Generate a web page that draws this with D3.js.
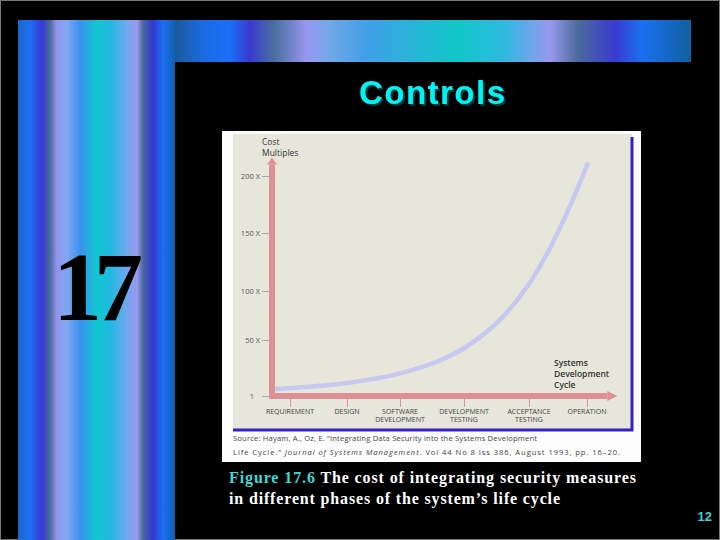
<!DOCTYPE html>
<html>
<head>
<meta charset="utf-8">
<script src="https://cdn.jsdelivr.net/npm/d3@7"></script>
<style>
  body { margin: 0; background: #000; }
  svg { display: block; }
</style>
</head>
<body>
<svg id="slide" width="720" height="540"></svg>
<script>
// ---- data ----
const phases = ["REQUIREMENT", "DESIGN", "SOFTWARE|DEVELOPMENT", "DEVELOPMENT|TESTING", "ACCEPTANCE|TESTING", "OPERATION"];
const costTicks = [1, 50, 100, 150, 200];
// curve: position along the life cycle (phase index) and cost multiple
const curvePhase = [-0.26, 0, 1, 2, 2.63, 3, 3.25, 3.66, 4, 4.31, 4.71, 5.02];
const curveCost = [7, 8, 12.4, 20.8, 32.3, 42.8, 53, 78, 106, 132, 174, 212];

const svg = d3.select('#slide');
const defs = svg.append('defs');

// slide decoration: gradient bars
const sideStops = [
    [0, '#1a66c8'], [0.076, '#1a70f0'], [0.153, '#3838d8'], [0.204, '#4a6a9a'],
    [0.248, '#9494f0'], [0.312, '#80a8f0'], [0.395, '#3c90f0'], [0.503, '#10c8d0'],
    [0.586, '#20b8e0'], [0.694, '#70a8f0'], [0.758, '#9a98f0'], [0.796, '#4a6a9a'],
    [0.86, '#3434d0'], [0.924, '#1a70f0'], [1, '#1060b0']
];
const topStops = [
    [0, '#1a5a98'], [0.053, '#1a6ae0'], [0.105, '#1a70f8'], [0.145, '#3a3ad0'],
    [0.194, '#4a70a0'], [0.256, '#9898f0'], [0.3, '#70a8e8'], [0.372, '#40a0e8'],
    [0.55, '#10c8c8'], [0.64, '#30b8e0'], [0.727, '#9898f0'], [0.781, '#4a6a9a'],
    [0.853, '#3a3ad0'], [0.905, '#1a70f0'], [1, '#1060a0']
];
function addGradient(id, stops) {
    defs.append('linearGradient')
        .attr('id', id)
        .attr('x1', 0).attr('x2', 1).attr('y1', 0).attr('y2', 0)
        .selectAll('stop')
        .data(stops)
        .enter().append('stop')
        .attr('offset', d => d[0])
        .attr('stop-color', d => d[1]);
}
addGradient('side-grad', sideStops);
addGradient('top-grad', topStops);

defs.append('filter').attr('id', 'shadow')
    .append('feDropShadow')
    .attr('dx', 2).attr('dy', 2).attr('stdDeviation', 0.4)
    .attr('flood-color', '#0a3a3a').attr('flood-opacity', 1);

svg.append('rect').attr('x', 0.5).attr('y', 0.5).attr('width', 719).attr('height', 539)
    .attr('fill', '#000').attr('stroke', '#777');
svg.append('rect').attr('x', 18).attr('y', 20).attr('width', 157).attr('height', 520)
    .attr('fill', 'url(#side-grad)');
svg.append('rect').attr('x', 175).attr('y', 20).attr('width', 516).attr('height', 42)
    .attr('fill', 'url(#top-grad)');

svg.append('text')
    .attr('x', 98).attr('y', 320)
    .attr('text-anchor', 'middle')
    .attr('font-family', 'Liberation Serif, serif')
    .attr('font-weight', 'bold')
    .attr('font-size', 98)
    .attr('textLength', 90)
    .attr('fill', '#000')
    .text('17');

// title with shadow
svg.append('text')
    .attr('x', 432).attr('y', 104)
    .attr('text-anchor', 'middle')
    .attr('font-family', 'Liberation Sans, Arial, sans-serif')
    .attr('font-weight', 'bold')
    .attr('font-size', 33)
    .attr('textLength', 146)
    .attr('fill', '#00f4f4')
    .attr('filter', 'url(#shadow)')
    .text('Controls');

// ---- figure panel ----
svg.append('rect').attr('x', 222).attr('y', 131).attr('width', 419).attr('height', 331).attr('fill', '#fdfdfd');
svg.append('rect').attr('x', 233).attr('y', 134).attr('width', 399).attr('height', 296).attr('fill', '#e6e6da');
svg.append('path')
    .attr('d', 'M632,137 V430 H233')
    .attr('fill', 'none')
    .attr('stroke', '#3420c8')
    .attr('stroke-width', 3);

const x = d3.scaleLinear().domain([0, 1, 2, 3, 4, 5]).range([290, 347, 400, 464, 529, 587]);
const y = d3.scaleLinear().domain(costTicks).range([396, 340, 291, 233, 176]);

const chart = svg.append('g');
const pink = '#de9097';

// y axis ticks + labels
const yAxis = chart.append('g')
    .attr('transform', 'translate(269,0)')
    .call(d3.axisLeft(y).tickValues(costTicks).tickSize(7).tickPadding(2)
        .tickFormat(d => d === 1 ? '1' : d + ' X'));
yAxis.select('.domain').remove();
yAxis.selectAll('.tick line').attr('stroke', '#999').attr('stroke-width', 0.8);
yAxis.selectAll('.tick text')
    .attr('font-family', 'Open Sans, sans-serif')
    .attr('font-size', 7.5)
    .attr('fill', '#555')
    .attr('dx', d => d === 1 ? -6 : 0);

// x axis ticks + labels
const xAxis = chart.append('g')
    .attr('transform', 'translate(0,399)')
    .call(d3.axisBottom(x).tickValues(d3.range(phases.length)).tickSize(8).tickFormat(''));
xAxis.select('.domain').remove();
xAxis.selectAll('.tick line').attr('stroke', pink).attr('stroke-width', 1);

chart.append('g')
    .selectAll('text')
    .data(phases)
    .enter().append('text')
    .attr('x', (d, i) => x(i))
    .attr('y', 414)
    .attr('text-anchor', 'middle')
    .attr('font-family', 'Open Sans, sans-serif')
    .attr('font-size', 7)
    .attr('fill', '#444')
    .each(function (d) {
        d.split('|').forEach((line, k) => {
            d3.select(this).append('tspan')
                .attr('x', d3.select(this).attr('x'))
                .attr('dy', k === 0 ? 0 : 8)
                .text(line);
        });
    });

// pink arrows
const y0 = y(1);
const xLeft = 272;
chart.append('line')
    .attr('x1', xLeft).attr('x2', xLeft)
    .attr('y1', y0 + 3).attr('y2', y(210))
    .attr('stroke', pink).attr('stroke-width', 6);
chart.append('path')
    .attr('d', `M${xLeft - 5},${y(210)} L${xLeft},${y(210) - 7} L${xLeft + 5},${y(210)} Z`)
    .attr('fill', pink);
chart.append('line')
    .attr('x1', xLeft - 3).attr('x2', x(5.35))
    .attr('y1', y0).attr('y2', y0)
    .attr('stroke', pink).attr('stroke-width', 6);
chart.append('path')
    .attr('d', `M${x(5.35)},${y0 - 5} L${x(5.35) + 10},${y0} L${x(5.35)},${y0 + 5} Z`)
    .attr('fill', pink);

// cost curve
const curveData = curvePhase.map((p, i) => ({ p: p, c: curveCost[i] }));
const line = d3.line()
    .x(d => x(d.p))
    .y(d => y(d.c))
    .curve(d3.curveMonotoneX);
chart.append('path')
    .datum(curveData)
    .attr('d', line)
    .attr('fill', 'none')
    .attr('stroke', '#c6c8f0')
    .attr('stroke-width', 4.5);

// axis titles
const axTitle = chart.append('g')
    .attr('font-family', 'Open Sans, sans-serif')
    .attr('font-size', 8.5)
    .attr('fill', '#333');
axTitle.append('text').attr('x', 262).attr('y', 145).text('Cost');
axTitle.append('text').attr('x', 262).attr('y', 156).text('Multiples');
axTitle.append('text').attr('x', 554).attr('y', 366).attr('font-weight', 600).text('Systems');
axTitle.append('text').attr('x', 554).attr('y', 377).attr('font-weight', 600).text('Development');
axTitle.append('text').attr('x', 554).attr('y', 388).attr('font-weight', 600).text('Cycle');

// source note
const src = chart.append('g')
    .attr('font-family', 'Open Sans, sans-serif')
    .attr('font-size', 7.6)
    .attr('fill', '#444');
src.append('text').attr('x', 233).attr('y', 441).attr('textLength', 304)
    .text('Source: Hayam, A., Oz, E. \u201CIntegrating Data Security into the Systems Development');
const src2 = src.append('text').attr('x', 233).attr('y', 455).attr('textLength', 387);
src2.append('tspan').text('Life Cycle.\u201D ');
src2.append('tspan').attr('font-style', 'italic').text('Journal of Systems Management');
src2.append('tspan').text('. Vol 44 No 8 Iss 386, August 1993, pp. 16\u201320.');

// caption
const cap = svg.append('g')
    .attr('font-family', 'Liberation Serif, serif')
    .attr('font-weight', 'bold')
    .attr('font-size', 16)
    .attr('fill', '#fff');
const cap1 = cap.append('text').attr('x', 229).attr('y', 483).attr('textLength', 407);
cap1.append('tspan').attr('fill', '#3cd8d8').text('Figure 17.6 ');
cap1.append('tspan').text('The cost of integrating security measures');
cap.append('text').attr('x', 229).attr('y', 504).attr('textLength', 331)
    .text('in different phases of the system\u2019s life cycle');

svg.append('text')
    .attr('x', 712).attr('y', 521)
    .attr('text-anchor', 'end')
    .attr('font-family', 'Liberation Sans, Arial, sans-serif')
    .attr('font-weight', 'bold')
    .attr('font-size', 13)
    .attr('fill', '#3cd0d0')
    .text('12');
</script>
</body>
</html>
